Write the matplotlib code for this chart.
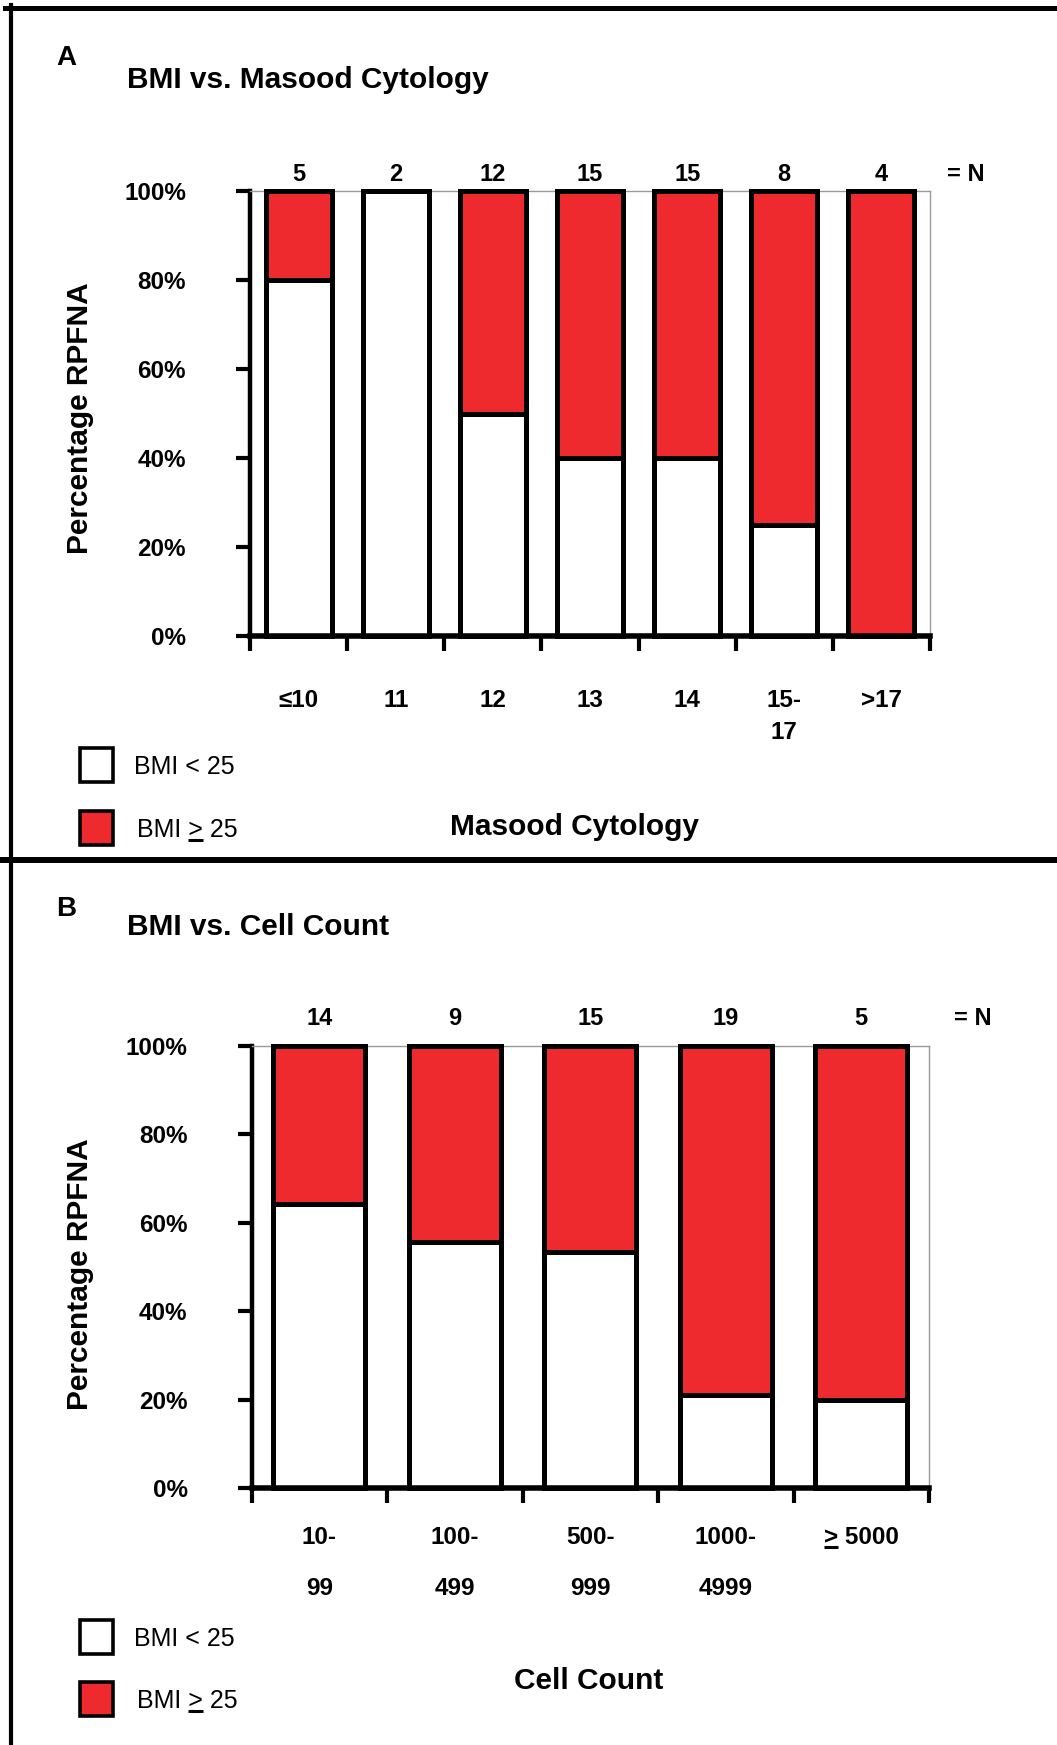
import numpy as np
import matplotlib
matplotlib.use('Agg')
import matplotlib.pyplot as plt
from matplotlib.patches import Rectangle
from matplotlib.lines import Line2D

plt.rcParams['font.family'] = ['Liberation Sans', 'DejaVu Sans']

# Panel A: BMI vs. Masood cytology (percent of RPFNA with BMI < 25)
masood_labels = ['\u226410', '11', '12', '13', '14', '15-\n17', '>17']
masood_n = [5, 2, 12, 15, 15, 8, 4]
masood_low = [80, 100, 50, 40, 40, 25, 0]

# Panel B: BMI vs. cell count ('>' of the last label is underlined = "at least")
cell_labels = ['10-\n99', '100-\n499', '500-\n999', '1000-\n4999', '> 5000']
cell_n = [14, 9, 15, 19, 5]
cell_low = [64.3, 55.6, 53.3, 21.1, 20.0]

y_ticks = [0, 20, 40, 60, 80, 100]
y_tick_labels = ['0%', '20%', '40%', '60%', '80%', '100%']

RED = '#EE2A2F'
W, H = 1057, 1745

fig = plt.figure(figsize=(W / 100, H / 100), dpi=100)


def fx(x):
    return x / W


def fy(y):
    return 1 - y / H


def panel(rect, labels, n, low, width, n_x, n_off, lab_pad, lab_spacing):
    left, top, right, bottom = rect
    ax = fig.add_axes([fx(left), fy(bottom), fx(right) - fx(left), fy(top) - fy(bottom)])
    k = len(labels)
    x = np.arange(k) + 0.5
    high = [100 - v for v in low]
    ax.bar(x, low, width, color='white', edgecolor='black', linewidth=3.6, clip_on=False, zorder=3)
    ax.bar(x, high, width, bottom=low, color=RED, edgecolor='black', linewidth=3.6,
           clip_on=False, zorder=3)
    ax.set_xlim(0, k)
    ax.set_ylim(0, 100)

    for s in ['top', 'right']:
        ax.spines[s].set_color('#999999')
        ax.spines[s].set_linewidth(1)
    ax.spines['left'].set_linewidth(3.2)
    ax.spines['bottom'].set_linewidth(4)
    ax.spines['bottom'].set_zorder(4)

    ax.set_yticks(y_ticks, labels=y_tick_labels)
    ax.tick_params(axis='y', length=10, width=3, pad=36, labelsize=17.5)
    for t in ax.get_yticklabels():
        t.set_fontweight('bold')

    ax.set_xticks(np.arange(k + 1), labels=[''] * (k + 1))
    ax.tick_params(axis='x', which='major', length=11, width=3)
    ax.set_xticks(x, labels=labels, minor=True)
    ax.tick_params(axis='x', which='minor', length=0, pad=lab_pad, labelsize=17.5)
    for t in ax.get_xticklabels(minor=True):
        t.set_fontweight('bold')
        t.set_linespacing(lab_spacing)

    for xi, ni in zip(x, n):
        ax.annotate(str(ni), (xi, 100), xytext=(0, n_off), textcoords='offset points',
                    ha='center', va='center', fontsize=17, fontweight='bold')
    ax.annotate('= N', (n_x, 100), xytext=(0, n_off), textcoords='offset points',
                ha='center', va='center', fontsize=17, fontweight='bold',
                annotation_clip=False)
    return ax


ax_a = panel((250, 191, 930, 636), masood_labels, masood_n, masood_low, 0.68, 7.37, 12, 38, 1.5)
ax_b = panel((251.5, 1046, 929, 1488), cell_labels, cell_n, cell_low, 0.68, 5.32, 19.5, 27.5, 2.55)

# panel letters, titles and axis titles
fig.text(fx(56), fy(58), 'A', fontsize=20, fontweight='bold', va='center')
fig.text(fx(127), fy(80), 'BMI vs. Masood Cytology', fontsize=21.5, fontweight='bold', va='center')
fig.text(fx(56), fy(909), 'B', fontsize=20, fontweight='bold', va='center')
fig.text(fx(127), fy(927), 'BMI vs. Cell Count', fontsize=21.5, fontweight='bold', va='center')

fig.text(fx(80), fy(418), 'Percentage RPFNA', fontsize=21.5, fontweight='bold',
         rotation=90, ha='center', va='center')
fig.text(fx(80), fy(1274), 'Percentage RPFNA', fontsize=21.5, fontweight='bold',
         rotation=90, ha='center', va='center')
fig.text(fx(575), fy(827), 'Masood Cytology', fontsize=21.5, fontweight='bold', ha='center', va='center')
fig.text(fx(589), fy(1681), 'Cell Count', fontsize=21.5, fontweight='bold', ha='center', va='center')

# legends (text placed on its baseline so the '>' can be underlined)
legend_baselines = []
for y_white, y_red in [(748, 811), (1620, 1682)]:
    for yb, col in [(y_white, 'white'), (y_red, RED)]:
        fig.patches.append(Rectangle((fx(80), fy(yb + 34)), fx(113) - fx(80), fy(yb) - fy(yb + 34),
                                     facecolor=col, edgecolor='black', linewidth=2.6,
                                     transform=fig.transFigure))
    fig.text(fx(133.5), fy(y_white + 26), 'BMI < 25', fontsize=18, va='baseline')
    fig.text(fx(137), fy(y_red + 26), 'BMI > 25', fontsize=18, va='baseline')
    legend_baselines.append(y_red + 26)

# outer frame lines
fig.add_artist(Line2D([fx(5), 1], [fy(7.5), fy(7.5)], color='black', linewidth=3.6))
fig.add_artist(Line2D([fx(11), fx(11)], [fy(5), 0], color='black', linewidth=3))
fig.add_artist(Line2D([0, 1], [fy(860), fy(860)], color='black', linewidth=4.3))

# underline the '>' signs
fig.canvas.draw()
renderer = fig.canvas.get_renderer()


def ink_width(s, **kw):
    t = fig.text(0.5, 0.5, s, **kw)
    w = t.get_window_extent(renderer).width
    t.remove()
    return w


def underline(x0, x1, y_base):
    # display coords -> figure fraction, 3 px below baseline
    fig.add_artist(Line2D([x0 / W, x1 / W], [(y_base - 3) / H, (y_base - 3) / H],
                          color='black', linewidth=2.2, solid_capstyle='butt'))


for yb in legend_baselines:
    t = fig.text(fx(137), fy(yb), 'BMI >', fontsize=18, va='baseline')
    e = t.get_window_extent(renderer)
    t.remove()
    gw = ink_width('>', fontsize=18)
    underline(e.x1 - gw, e.x1, fy(yb) * H)

# last tick label of panel B
lbl = ax_b.get_xticklabels(minor=True)[-1]
e = lbl.get_window_extent(renderer)
t = fig.text(0.5, 0.5, 'lp', fontsize=17.5, fontweight='bold', va='baseline')
lp_d = 0.5 * H - t.get_window_extent(renderer).y0
t.remove()
gw = ink_width('>', fontsize=17.5, fontweight='bold')
underline(e.x0, e.x0 + gw, e.y0 + lp_d)

fig.savefig('out.png', dpi=100)
